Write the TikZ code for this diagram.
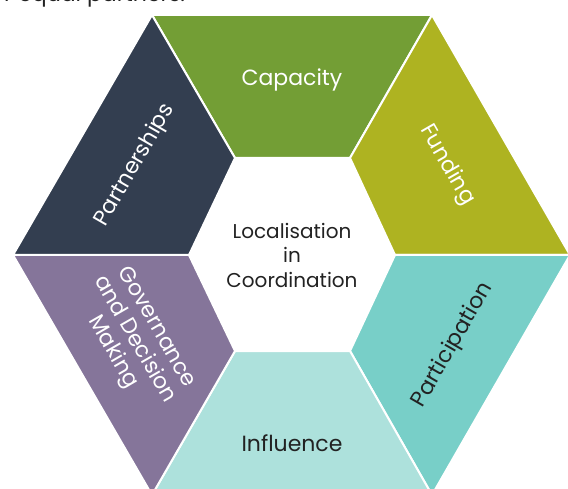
\documentclass[tikz,border=0pt]{standalone}
\usepackage{fontspec}
\setmainfont{Poppins}
\usetikzlibrary{positioning}

\definecolor{capgreen}{RGB}{115,158,53}
\definecolor{fundolive}{RGB}{174,179,33}
\definecolor{partteal}{RGB}{120,207,200}
\definecolor{inflteal}{RGB}{173,225,220}
\definecolor{govpurple}{RGB}{133,117,154}
\definecolor{shipnavy}{RGB}{51,62,80}
\definecolor{inktext}{RGB}{34,34,34}

\begin{document}
\begin{tikzpicture}[x=1pt, y=1pt,
  seg/.style={draw=white, line width=2pt, line join=miter},
  lab/.style={font=\fontsize{22}{25}\selectfont, align=center, inner sep=0pt},
  mid/.style={font=\fontsize{20}{24.5}\selectfont, align=center, inner sep=0pt}]

\useasboundingbox (0,0) rectangle (568,488);

% outer hexagon
\coordinate (o1) at (152,473);
\coordinate (o2) at (432,473);
\coordinate (o3) at (570,233);
\coordinate (o4) at (432,-7);
\coordinate (o5) at (152,-7);
\coordinate (o6) at (13,233);

% inner hexagon
\coordinate (i1) at (235,330);
\coordinate (i2) at (350,330);
\coordinate (i3) at (395,233);
\coordinate (i4) at (350,137);
\coordinate (i5) at (235,137);
\coordinate (i6) at (189,233);

\filldraw[seg, fill=capgreen] (o1) -- (o2) -- (i2) -- (i1) -- cycle;
\filldraw[seg, fill=fundolive] (o2) -- (o3) -- (i3) -- (i2) -- cycle;
\filldraw[seg, fill=partteal] (o3) -- (o4) -- (i4) -- (i3) -- cycle;
\filldraw[seg, fill=inflteal] (o4) -- (o5) -- (i5) -- (i4) -- cycle;
\filldraw[seg, fill=govpurple] (o5) -- (o6) -- (i6) -- (i5) -- cycle;
\filldraw[seg, fill=shipnavy] (o6) -- (o1) -- (i1) -- (i6) -- cycle;

% labels
\node[lab, text=white] (capacity) at (292,408) {Capacity};
\node[lab, text=white, rotate=-60] (funding) at (447,323) {Funding};
\node[lab, text=inktext, rotate=60] (participation) at (453,143) {Participation};
\node[lab, text=inktext] (influence) at (292,45) {Influence};
\node[lab, text=white, rotate=-60] (governance) at (134,148) {Governance\\and Decision\\Making};
\node[lab, text=white, rotate=60] (partnerships) at (135,323) {Partnerships};
\node[mid, text=inktext] (centre) at (292,233) {Localisation\\in\\Coordination};

% cut-off line above the picture
\node[lab, text=inktext, anchor=base west] (topline) at (4,486) {r equal partners.};

\end{tikzpicture}
\end{document}
